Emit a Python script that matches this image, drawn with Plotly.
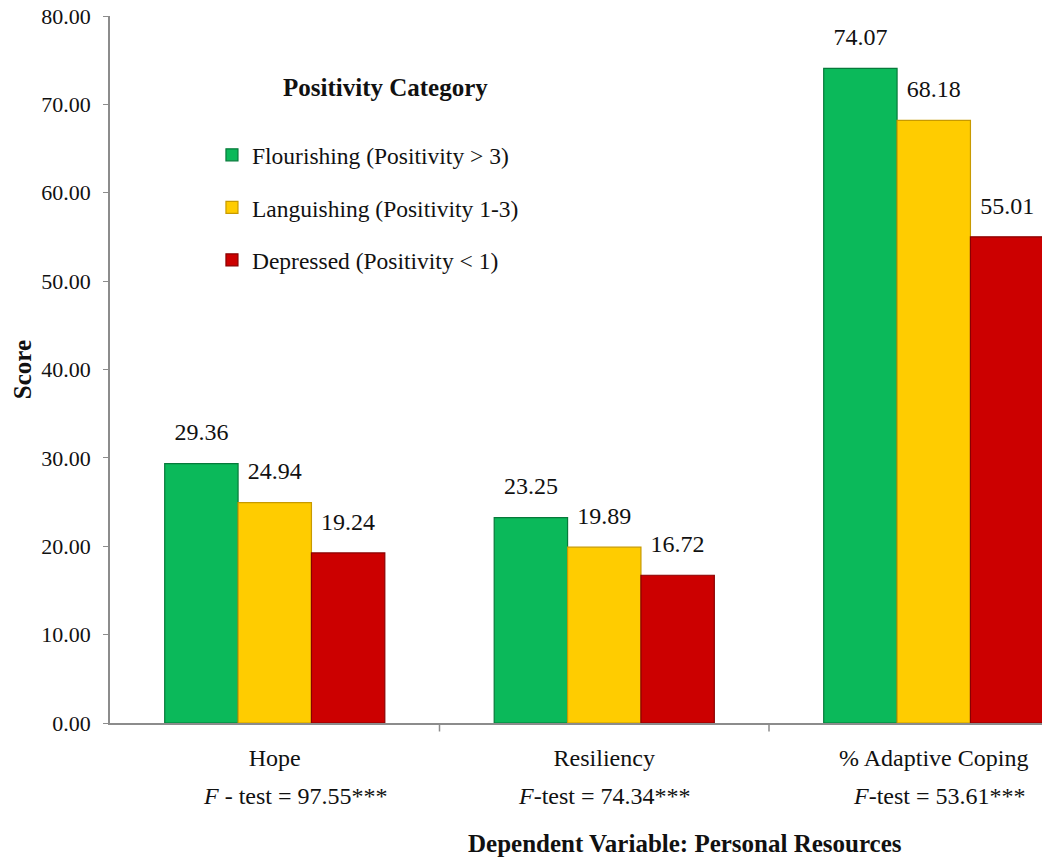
import plotly.graph_objects as go

# Personal resources by positivity category
categories = ["Hope", "Resiliency", "% Adaptive Coping"]
f_tests = ["<i>F</i> - test = 97.55***", "<i>F</i>-test = 74.34***", "<i>F</i>-test = 53.61***"]
series_names = ["Flourishing (Positivity > 3)", "Languishing (Positivity 1-3)", "Depressed (Positivity < 1)"]
flourishing = [29.36, 23.25, 74.07]
languishing = [24.94, 19.89, 68.18]
depressed = [19.24, 16.72, 55.01]
y_ticks = [0, 10, 20, 30, 40, 50, 60, 70, 80]

fills = ["#0bb95a", "#ffcc00", "#cc0000"]
edges = ["#067a3a", "#c89a00", "#8a0000"]
FONT = "Liberation Serif, Times New Roman, serif"
INK = "#111111"

x_pos = list(range(len(categories)))
fig = go.Figure()
for k, (name, vals, fc, ec) in enumerate(zip(series_names, [flourishing, languishing, depressed], fills, edges)):
    fig.add_trace(go.Bar(
        x=x_pos, y=vals, name=name, legendgroup=name, offsetgroup=str(k),
        marker=dict(color=fc, line=dict(color=ec, width=1.2)),
    ))
# value labels, grouped the same way as the bars
for k, (name, vals) in enumerate(zip(series_names, [flourishing, languishing, depressed])):
    fig.add_trace(go.Scatter(
        x=x_pos, y=vals, mode="markers+text", offsetgroup=str(k), showlegend=False,
        marker=dict(size=26, opacity=0), hoverinfo="skip",
        text=[f"{v:.2f}" for v in vals], textposition="top center",
        textfont=dict(family=FONT, size=24, color=INK), cliponaxis=False,
    ))

annotations = [
    dict(text="<b>Positivity Category</b>", x=(385 - 110) / 932, y=(723 - 88) / 707,
         xref="paper", yref="paper", xanchor="center", yanchor="middle",
         showarrow=False, font=dict(family=FONT, size=25, color=INK)),
    dict(text="<b>Dependent Variable: Personal Resources</b>", x=(685 - 110) / 932, y=-0.170,
         xref="paper", yref="paper", xanchor="center", yanchor="middle", showarrow=False,
         font=dict(family=FONT, size=25, color=INK)),
]
ftest_offsets = [0.064, 0.0, 0.018]
for i, (ft, off) in enumerate(zip(f_tests, ftest_offsets)):
    annotations.append(dict(text=ft, x=i + off, y=-0.103, xref="x", yref="paper",
                            xanchor="center", yanchor="middle", showarrow=False,
                            font=dict(family=FONT, size=24, color=INK)))

fig.update_layout(
    width=1042, height=863,
    margin=dict(l=110, r=0, t=16, b=140),
    paper_bgcolor="white", plot_bgcolor="white",
    barmode="group", bargap=0.332, bargroupgap=0,
    scattermode="group", scattergap=0.332,
    font=dict(family=FONT, color=INK),
    showlegend=True,
    legend=dict(x=0.1094, y=0.8345, xanchor="left", yanchor="top",
                font=dict(family=FONT, size=23.5, color=INK),
                tracegroupgap=19, bgcolor="rgba(0,0,0,0)", itemwidth=30),
    xaxis=dict(range=[-0.5, 2.3285], tickmode="array", tickvals=x_pos, ticktext=categories,
               tickfont=dict(family=FONT, size=24, color=INK), ticklabelstandoff=12,
               showline=True, linecolor="#8c8c8c", linewidth=1.5,
               ticks="", showgrid=False, zeroline=False),
    yaxis=dict(range=[0, 80], tickmode="array", tickvals=y_ticks,
               ticktext=[f"{v:.2f}" for v in y_ticks],
               tickfont=dict(family=FONT, size=22, color=INK), ticklabelstandoff=8,
               showline=True, linecolor="#8c8c8c", linewidth=1.5,
               ticks="outside", ticklen=5, tickcolor="#8c8c8c",
               showgrid=False, zeroline=False,
               title=dict(text="<b>Score</b>", font=dict(family=FONT, size=25, color=INK), standoff=3)),
    annotations=annotations,
)

# category boundary ticks on the x axis
for b in [0.5, 1.5]:
    fig.add_shape(type="line", x0=b, x1=b, y0=0, y1=-0.012, xref="x", yref="paper",
                  line=dict(color="#8c8c8c", width=1.5))

fig.write_html("out.html")
